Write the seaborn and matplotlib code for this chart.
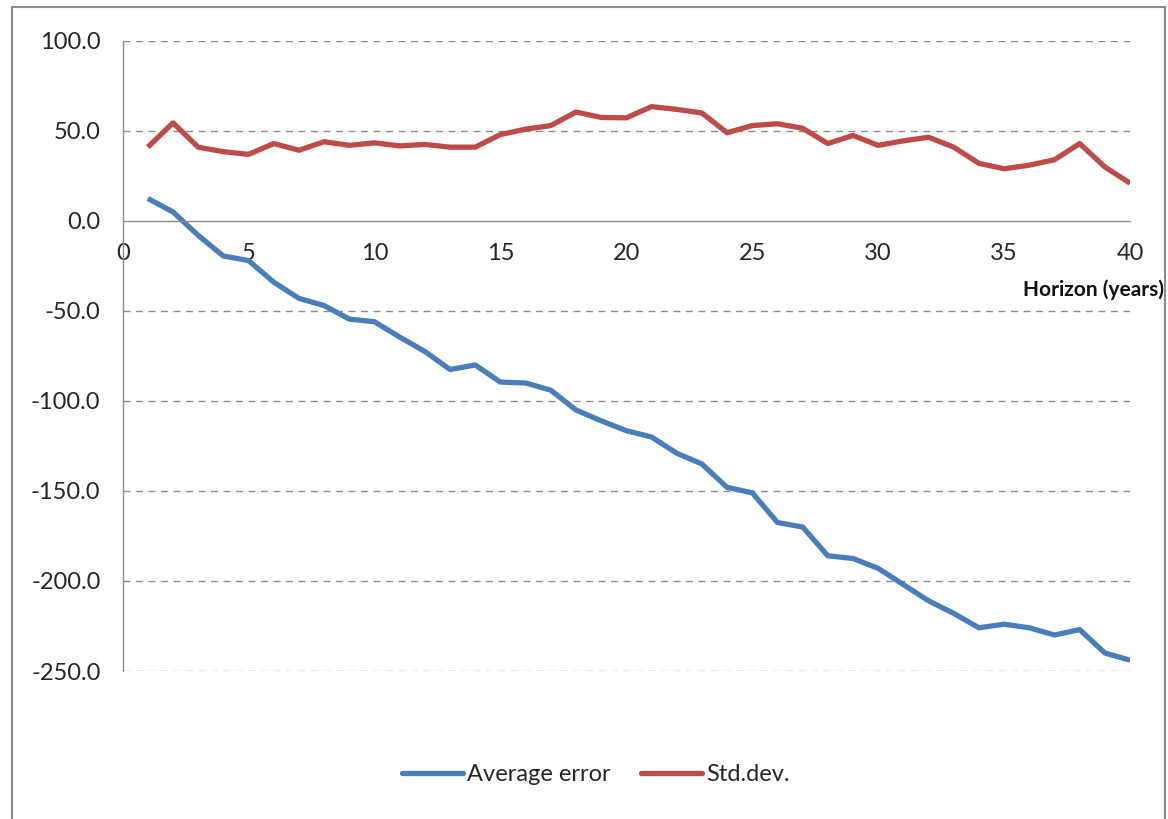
import numpy as np
import pandas as pd
import matplotlib
matplotlib.use('Agg')
import matplotlib.pyplot as plt
import seaborn as sns
from matplotlib.patches import Rectangle
from matplotlib.lines import Line2D

# Values (horizon 1..40 years)
horizon = list(range(1, 41))
avg_error = [12.5, 5, -8, -19.5, -22, -34, -43, -47, -54.5, -56,
             -64.5, -72.5, -82.5, -80, -89.5, -90, -94, -105, -111, -116.5,
             -120, -129, -135, -148, -151, -167.5, -170, -186, -187.5, -193,
             -202, -211, -218, -226, -224, -226, -230, -227, -240, -244]
std_dev = [41, 54.5, 41, 38.5, 37, 43, 39.3, 44, 42, 43.4,
           41.7, 42.5, 41, 41, 48, 51, 53, 60.5, 57.5, 57.3,
           63.5, 62, 60, 49, 53, 54, 51.5, 43, 47.5, 42,
           44.5, 46.5, 41, 32, 29, 31, 34, 43, 30, 21]
y_ticks = [100, 50, 0, -50, -100, -150, -200, -250]
x_ticks = [0, 5, 10, 15, 20, 25, 30, 35, 40]

df = pd.DataFrame({'horizon': horizon * 2,
                   'value': avg_error + std_dev,
                   'series': ['Average error'] * 40 + ['Std.dev.'] * 40})

sns.set_theme(style='white')
plt.rcParams['font.family'] = ['Lato', 'DejaVu Sans']

fig = plt.figure(figsize=(11.68, 8.19), dpi=100)
ax = fig.add_axes([0.105, 0.1807, 0.8625, 0.7693])

palette = {'Average error': '#4A7EBB', 'Std.dev.': '#BE4B48'}
sns.lineplot(data=df, x='horizon', y='value', hue='series', palette=palette,
             linewidth=3.8, ax=ax, legend=False)
for l in ax.lines:
    l.set_solid_joinstyle('round')
    l.set_solid_capstyle('butt')

ax.set_xlim(0, 40)
ax.set_ylim(-250, 100)
ax.set_yticks(y_ticks)
ax.set_yticklabels([f'{v:.1f}' for v in y_ticks])
ax.set_xticks(x_ticks)
ax.set_xticklabels([str(v) for v in x_ticks])

# dashed gridlines (zero is the axis line)
for v in y_ticks:
    if v != 0:
        ax.axhline(v, color='#8c8c8c', lw=1.0, ls=(0, (5, 4)), zorder=0)

for s in ['top', 'right']:
    ax.spines[s].set_visible(False)
ax.spines['left'].set_color('#8c8c8c')
ax.spines['bottom'].set_color('#8c8c8c')
ax.spines['bottom'].set_position(('data', 0))
ax.spines['left'].set_linewidth(1.0)
ax.spines['bottom'].set_linewidth(1.0)

ax.tick_params(axis='y', direction='out', length=7, width=1, color='#8c8c8c',
               labelsize=17, labelcolor='#262626', pad=9)
ax.tick_params(axis='x', direction='out', length=8, width=1, color='#8c8c8c',
               labelsize=17, labelcolor='#262626', pad=8)
ax.set_xlabel('')
ax.set_ylabel('')

fig.text(0.997, 0.646, 'Horizon (years)', ha='right', va='center',
         fontsize=15, fontweight='bold', color='#111111')

# legend
handles = [Line2D([], [], color=palette[k], lw=3.8) for k in palette]
fig.legend(handles, list(palette.keys()), loc='center', bbox_to_anchor=(0.51, 0.054),
           ncol=2, frameon=False, fontsize=17, handlelength=2.6, handletextpad=0.15,
           columnspacing=1.3)

# chart border
fig.add_artist(Rectangle((0.0105, -0.01), 0.987, 1.001, transform=fig.transFigure,
                         fill=False, edgecolor='#8a8a8a', lw=1.5))

fig.savefig('out.png', dpi=100)
